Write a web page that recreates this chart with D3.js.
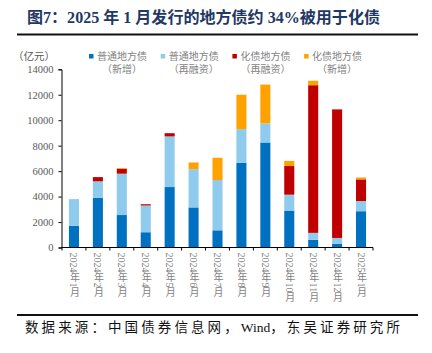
<!DOCTYPE html>
<html>
<head>
<meta charset="utf-8">
<script src="https://cdn.jsdelivr.net/npm/d3@7"></script>
<style>
  body { margin: 0; background: #fff; }
  svg { display: block; }
</style>
</head>
<body>
<div id="chart"></div>
<script>
// data (亿元)
const months = ["2024年1月", "2024年2月", "2024年3月", "2024年4月", "2024年5月", "2024年6月",
  "2024年7月", "2024年8月", "2024年9月", "2024年10月", "2024年11月", "2024年12月", "2025年1月"];
const generalNew = [1700, 3900, 2550, 1200, 4750, 3150, 1350, 6650, 8250, 2900, 600, 300, 2850];
const generalRefi = [2100, 1300, 3250, 2100, 3980, 3000, 3950, 2650, 1500, 1250, 550, 450, 800];
const swapRefi = [0, 330, 380, 100, 250, 0, 0, 0, 0, 2250, 11600, 10100, 1700];
const swapNew = [0, 0, 60, 0, 0, 530, 1750, 2700, 3050, 400, 350, 0, 150];
const seriesNames = [["普通地方债", "（新增）"], ["普通地方债", "（再融资）"], ["化债地方债", "（再融资）"], ["化债地方债", "（新增）"]];
const yTicks = [0, 2000, 4000, 6000, 8000, 10000, 12000, 14000];

const colors = ["#0070C0", "#8FCBEC", "#C00000", "#FFA200"];
const keys = ["gNew", "gRefi", "sRefi", "sNew"];

const W = 432, H = 353;
const svg = d3.select("#chart").append("svg").attr("width", W).attr("height", H);

const serif = "'Liberation Serif', 'Noto Sans CJK SC', serif";

// title + rules
svg.append("text")
  .attr("x", 27).attr("y", 23)
  .attr("textLength", 353).attr("lengthAdjust", "spacingAndGlyphs")
  .style("font-family", serif).style("font-weight", "bold").style("font-size", "16px")
  .attr("fill", "#1F3864")
  .text("图7：2025 年 1 月发行的地方债约 34%被用于化债");
svg.append("line").attr("x1", 17).attr("x2", 418).attr("y1", 34.5).attr("y2", 34.5)
  .attr("stroke", "#111").attr("stroke-width", 2);
svg.append("line").attr("x1", 17).attr("x2", 418).attr("y1", 315).attr("y2", 315)
  .attr("stroke", "#111").attr("stroke-width", 2);

// source line, Wind kept tight like the original
const src = svg.append("text")
  .attr("x", 25).attr("y", 332)
  .style("font-family", serif).style("font-size", "13.5px").attr("fill", "#111");
src.append("tspan").style("letter-spacing", "3.1px").text("数据来源：中国债券信息网，");
src.append("tspan").style("letter-spacing", "0px").text("Wind");
src.append("tspan").style("letter-spacing", "3.1px").text("，东吴证券研究所");

const rows = months.map((m, i) => ({
  month: m, gNew: generalNew[i], gRefi: generalRefi[i], sRefi: swapRefi[i], sNew: swapNew[i]
}));
const stacked = d3.stack().keys(keys)(rows);

const x = d3.scaleBand().domain(months).range([62, 373]).paddingInner(0.58).paddingOuter(0.29);
const y = d3.scaleLinear().domain([0, 14000]).range([247.5, 69.3]);

// bars
svg.append("g").selectAll("g").data(stacked).join("g")
  .attr("fill", (d, i) => colors[i])
  .selectAll("rect").data(d => d).join("rect")
  .attr("x", d => x(d.data.month))
  .attr("width", x.bandwidth())
  .attr("y", d => y(d[1]))
  .attr("height", d => Math.max(0, y(d[0]) - y(d[1])));

// y axis
const yAxis = svg.append("g").attr("transform", "translate(61.5,0)")
  .call(d3.axisLeft(y).tickValues(yTicks).tickSize(3).tickPadding(5).tickFormat(d3.format("d")));
yAxis.select(".domain").attr("stroke", "#000");
yAxis.selectAll(".tick line").attr("stroke", "#000");
yAxis.selectAll(".tick text").attr("fill", "#595959")
  .style("font-family", serif).style("font-size", "10.5px");

// x axis: ticks between categories
const xAxis = svg.append("g").attr("transform", "translate(0,247.5)");
xAxis.append("line").attr("x1", 61.5).attr("x2", 373).attr("stroke", "#000");
xAxis.selectAll("line.tk").data(d3.range(months.length + 1)).join("line").attr("class", "tk")
  .attr("x1", i => 62 + i * (311 / months.length)).attr("x2", i => 62 + i * (311 / months.length))
  .attr("y1", 0).attr("y2", 3).attr("stroke", "#000");
xAxis.selectAll("text").data(months).join("text")
  .attr("x", d => x(d) + x.bandwidth() / 2)
  .attr("y", 5)
  .style("writing-mode", "vertical-rl")
  .style("text-orientation", "mixed")
  .style("font-family", serif).style("font-size", "10px")
  .attr("fill", "#7F7F7F")
  .text(d => d);

// unit
svg.append("text").attr("x", 13).attr("y", 60)
  .style("font-family", serif).style("font-size", "10.5px").attr("fill", "#595959")
  .text("（亿元）");

// legend
const lg = svg.append("g").selectAll("g").data(seriesNames).join("g")
  .attr("transform", (d, i) => `translate(${89 + i * 71.7},0)`);
lg.append("rect").attr("x", 0).attr("y", 54).attr("width", 4.5).attr("height", 4.5)
  .attr("fill", (d, i) => colors[i]);
lg.append("text").attr("x", 8).attr("y", 60)
  .style("font-family", serif).style("font-size", "10px").attr("fill", "#7F7F7F")
  .text(d => d[0]);
lg.append("text").attr("x", 33).attr("y", 73).attr("text-anchor", "middle")
  .style("font-family", serif).style("font-size", "10px").attr("fill", "#7F7F7F")
  .text(d => d[1]);
</script>
</body>
</html>
